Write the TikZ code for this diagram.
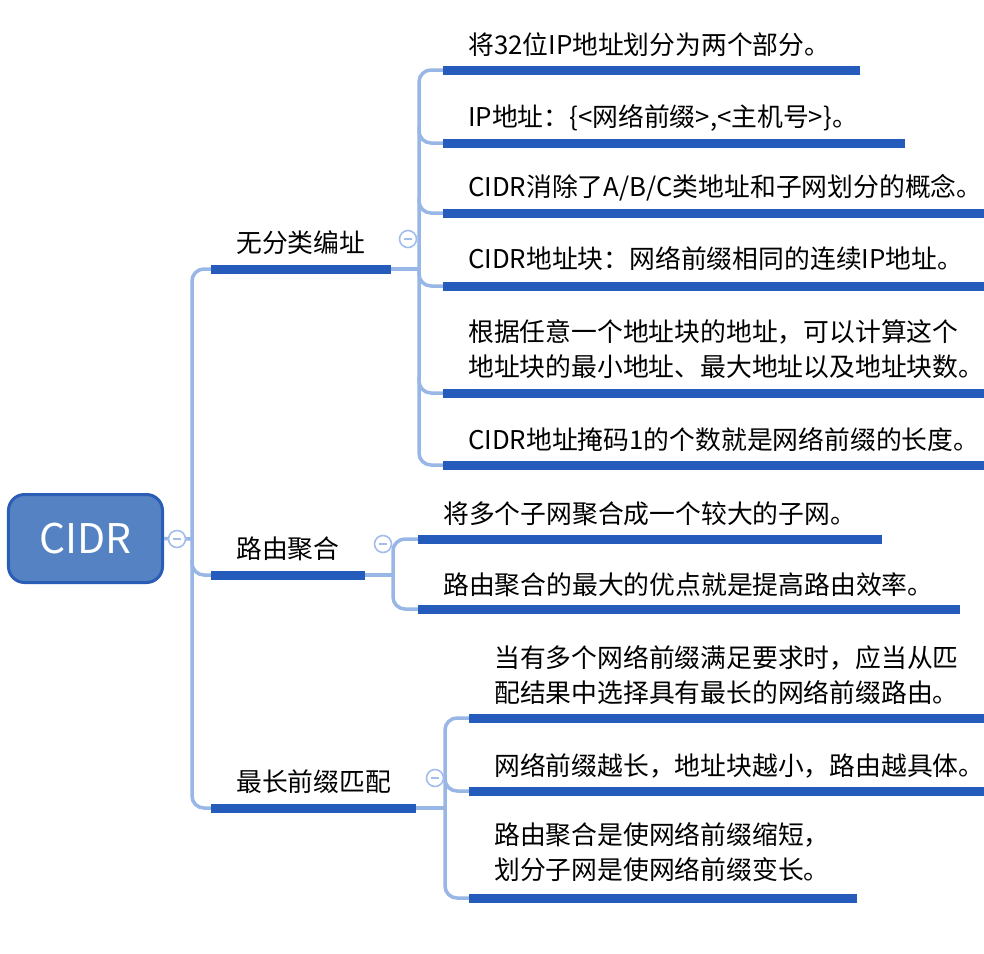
\documentclass[tikz,border=0pt]{standalone}
\usepackage{fontspec}
\setmainfont{Noto Sans CJK SC}
\definecolor{barblue}{HTML}{255BBA}
\definecolor{lineblue}{HTML}{98B6E6}
\definecolor{togblue}{HTML}{A3BEEA}
\definecolor{rootfill}{HTML}{5482C2}
\definecolor{rootborder}{HTML}{2A5DB5}
\begin{document}
\begin{tikzpicture}[x=1bp,y=-1bp,
  bar/.style={line width=9bp, draw=barblue},
  conn/.style={line width=3.5bp, draw=lineblue, rounded corners=12bp},
  lbl/.style={anchor=base west, inner sep=0pt, font=\fontsize{25.9}{35}\selectfont, align=left},
  tog/.style={circle, draw=togblue, line width=1.6bp, fill=white, minimum size=17bp, inner sep=0pt,
    path picture={\draw[togblue, line width=1.6bp] ([xshift=-4bp]path picture bounding box.center) -- ([xshift=4bp]path picture bounding box.center);}},
  root/.style={rounded corners=16bp, fill=rootfill, draw=rootborder, line width=3bp, minimum width=154bp, minimum height=88bp, text=white, font=\fontsize{41}{42}\selectfont, inner sep=0pt}]
\useasboundingbox (0,0) rectangle (984,954);

% root
\node[root] (root) at (85.5,538.5) {CIDR};

% level-1 bar coordinates
\coordinate (a1s) at (211,269); \coordinate (a1e) at (391,269);
\coordinate (a2s) at (211,575); \coordinate (a2e) at (365,575);
\coordinate (a3s) at (211,808); \coordinate (a3e) at (416,808);

% main connectors
\draw[conn] (root.east) -- (192,539);
\draw[conn] (a1s) -- (192,269) -- (192,808) -- (a3s);
\draw[conn] (192,560) -- (192,575) -- (a2s);
\node[tog] (t0) at (177,539) {};

% level-1 bars and labels
\draw[bar] (a1s) -- (a1e);
\draw[bar] (a2s) -- (a2e);
\draw[bar] (a3s) -- (a3e);
\node[lbl] (n1) at (236,252) {无分类编址};
\node[lbl] (n2) at (236,558) {路由聚合};
\node[lbl] (n3) at (236,791) {最长前缀匹配};

% group 1
\coordinate (b1s) at (443,70);  \coordinate (b1e) at (860,70);
\coordinate (b2s) at (443,143); \coordinate (b2e) at (905,143);
\coordinate (b3s) at (443,213); \coordinate (b3e) at (984,213);
\coordinate (b4s) at (443,286); \coordinate (b4e) at (984,286);
\coordinate (b5s) at (443,393); \coordinate (b5e) at (984,393);
\coordinate (b6s) at (443,465); \coordinate (b6e) at (984,465);
\draw[conn] (a1e) -- (419,269);
\draw[conn] (b1s) -- (419,70) -- (419,465) -- (b6s);
\foreach \y/\n in {143/b2s,213/b3s,286/b4s,393/b5s}{
  \draw[conn] (419,\y-16) -- (419,\y) -- (\n);
}
\foreach \n in {1,...,6}{ \draw[bar] (b\n s) -- (b\n e); }
\node[tog] (t1) at (408,239) {};
\node[lbl] (m1) at (468,54) {将32位IP地址划分为两个部分。};
\node[lbl] (m2) at (468,126) {IP地址：\{<网络前缀>,<主机号>\}。};
\node[lbl] (m3) at (468,196) {CIDR消除了A/B/C类地址和子网划分的概念。};
\node[lbl] (m4) at (468,268) {CIDR地址块：网络前缀相同的连续IP地址。};
\node[lbl] (m5) at (468,376) {根据任意一个地址块的地址，可以计算这个\\地址块的最小地址、最大地址以及地址块数。};
\node[lbl] (m6) at (468,449) {CIDR地址掩码1的个数就是网络前缀的长度。};

% group 2
\coordinate (c1s) at (418,539); \coordinate (c1e) at (882,539);
\coordinate (c2s) at (418,609); \coordinate (c2e) at (960,609);
\draw[conn] (a2e) -- (393,575);
\draw[conn] (c1s) -- (393,539) -- (393,609) -- (c2s);
\draw[bar] (c1s) -- (c1e);
\draw[bar] (c2s) -- (c2e);
\node[tog] (t2) at (383,544) {};
\node[lbl] (k1) at (443,523) {将多个子网聚合成一个较大的子网。};
\node[lbl] (k2) at (443,594) {路由聚合的最大的优点就是提高路由效率。};

% group 3
\coordinate (d1s) at (469,718); \coordinate (d1e) at (984,718);
\coordinate (d2s) at (469,791); \coordinate (d2e) at (984,791);
\coordinate (d3s) at (469,898); \coordinate (d3e) at (857,898);
\draw[conn] (a3e) -- (445,808);
\draw[conn] (d1s) -- (445,718) -- (445,898) -- (d3s);
\draw[conn] (445,775) -- (445,791) -- (d2s);
\draw[bar] (d1s) -- (d1e);
\draw[bar] (d2s) -- (d2e);
\draw[bar] (d3s) -- (d3e);
\node[tog] (t3) at (435,778) {};
\node[lbl] (p1) at (494,702) {当有多个网络前缀满足要求时，应当从匹\\配结果中选择具有最长的网络前缀路由。};
\node[lbl] (p2) at (494,775) {网络前缀越长，地址块越小，路由越具体。};
\node[lbl] (p3) at (494,879) {路由聚合是使网络前缀缩短，\\划分子网是使网络前缀变长。};
\end{tikzpicture}
\end{document}
